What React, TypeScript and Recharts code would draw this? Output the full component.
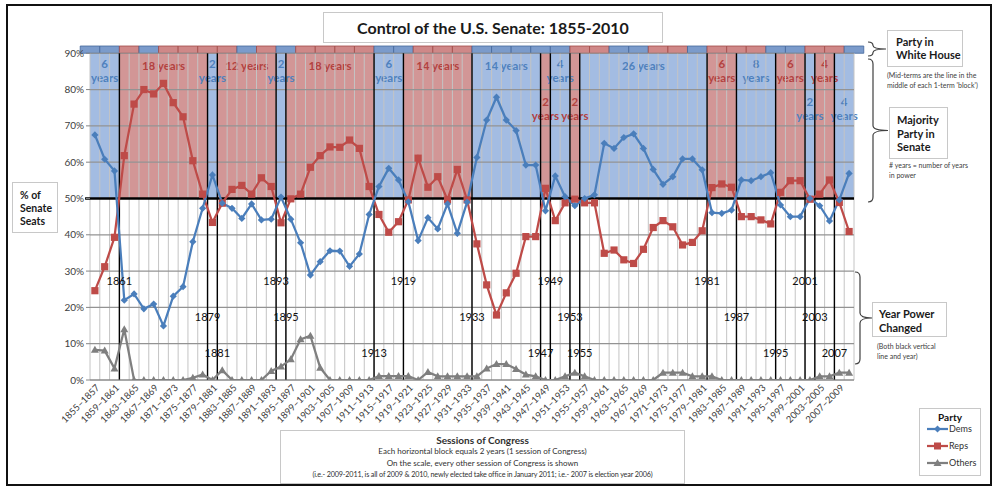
import React from "react";
import {
  ComposedChart,
  Line,
  XAxis,
  YAxis,
  ReferenceArea,
  ReferenceLine,
  ReferenceDot,
} from "recharts";

// first year of each session of Congress (each session = 2 years)
const sessions = [
  1855, 1857, 1859, 1861, 1863, 1865, 1867, 1869, 1871, 1873, 1875, 1877, 1879,
  1881, 1883, 1885, 1887, 1889, 1891, 1893, 1895, 1897, 1899, 1901, 1903, 1905,
  1907, 1909, 1911, 1913, 1915, 1917, 1919, 1921, 1923, 1925, 1927, 1929, 1931,
  1933, 1935, 1937, 1939, 1941, 1943, 1945, 1947, 1949, 1951, 1953, 1955, 1957,
  1959, 1961, 1963, 1965, 1967, 1969, 1971, 1973, 1975, 1977, 1979, 1981, 1983,
  1985, 1987, 1989, 1991, 1993, 1995, 1997, 1999, 2001, 2003, 2005, 2007, 2009,
];

// % of senate seats
const dems = [
  67.5, 60.8, 57.6, 22.0, 23.7, 19.6, 20.9, 14.9, 23.1, 25.7, 38.1, 47.3, 56.5,
  48.7, 47.3, 44.5, 48.5, 44.1, 44.3, 50.4, 44.3, 37.8, 28.9, 32.6, 35.6, 35.5,
  31.3, 34.7, 45.6, 53.3, 58.3, 55.1, 49.1, 38.4, 44.7, 41.6, 48.5, 40.4, 49.0,
  61.3, 71.6, 77.9, 71.6, 68.7, 59.2, 59.2, 46.6, 56.2, 50.5, 48.0, 50.0, 51.0,
  65.2, 63.8, 66.8, 67.8, 63.8, 58.0, 53.9, 56.0, 60.9, 60.9, 57.9, 46.1, 45.9,
  46.8, 55.1, 54.9, 56.0, 57.1, 48.2, 45.0, 45.0, 50.0, 48.0, 43.8, 49.6, 56.9,
];
const reps = [
  24.6, 31.2, 39.3, 61.8, 76.0, 80.0, 78.8, 81.7, 76.4, 72.5, 60.4, 51.2, 43.4,
  48.7, 52.5, 53.6, 51.2, 55.7, 53.3, 43.3, 49.9, 51.2, 58.6, 61.8, 64.2, 64.1,
  66.1, 63.8, 53.3, 45.6, 40.7, 43.6, 49.6, 61.1, 53.1, 56.0, 49.6, 58.0, 49.6,
  37.5, 26.2, 17.9, 24.0, 29.4, 39.5, 39.5, 52.8, 43.9, 48.8, 49.8, 48.8, 48.8,
  34.9, 35.8, 33.1, 32.1, 36.0, 42.0, 43.9, 42.2, 37.2, 37.9, 41.1, 53.0, 54.0,
  53.1, 45.0, 45.0, 44.1, 43.0, 51.7, 54.9, 54.9, 49.8, 51.2, 55.1, 48.9, 40.9,
];
const others = [
  8.3, 8.1, 3.2, 14.0, 0, 0, 0, 0, 0, 0, 0.6, 1.5, 0, 2.7, 0, 0, 0, 0, 2.5, 3.7,
  5.7, 11.2, 12.2, 3.4, 0, 0, 0, 0, 0, 1.1, 1.1, 1.1, 1.1, 0, 2.2, 1.0, 1.0, 1.0,
  1.0, 1.0, 3.2, 4.4, 4.4, 3.0, 1.5, 1.0, 0, 0, 1.0, 2.0, 1.0, 0, 0, 0, 0, 0, 0,
  0, 2.0, 2.0, 2.0, 1.0, 1.0, 1.0, 0, 0, 0, 0, 0, 0, 0, 0, 0, 0, 1.0, 1.0, 2.0,
  2.0,
];

// majority party in senate: first year of the period, party, years in power
const majorityStart = [
  1855, 1861, 1879, 1881, 1893, 1895, 1913, 1919, 1933, 1947, 1949, 1953, 1955,
  1981, 1987, 1995, 2001, 2003, 2007,
];
const majorityEnd = [
  1861, 1879, 1881, 1893, 1895, 1913, 1919, 1933, 1947, 1949, 1953, 1955, 1981,
  1987, 1995, 2001, 2003, 2007, 2011,
];
const majorityParty = [
  "D", "R", "D", "R", "D", "R", "D", "R", "D", "R", "D", "R", "D", "R", "D",
  "R", "D", "R", "D",
];
const majorityYears = [6, 18, 2, 12, 2, 18, 6, 14, 14, 2, 4, 2, 26, 6, 8, 6, 2, 4, 4];

// party in white house, by presidential term
const termStart = [
  1853, 1857, 1861, 1865, 1869, 1873, 1877, 1881, 1885, 1889, 1893, 1897, 1901,
  1905, 1909, 1913, 1917, 1921, 1925, 1929, 1933, 1937, 1941, 1945, 1949, 1953,
  1957, 1961, 1965, 1969, 1973, 1977, 1981, 1985, 1989, 1993, 1997, 2001, 2005,
  2009,
];
const termParty = [
  "D", "D", "R", "D", "R", "R", "R", "R", "D", "R", "D", "R", "R", "R", "R", "D",
  "D", "R", "R", "R", "D", "D", "D", "D", "D", "R", "R", "D", "D", "R", "R", "D",
  "R", "R", "R", "D", "D", "R", "R", "D",
];

// years the senate majority changed hands
const powerChanged = [
  1861, 1879, 1881, 1893, 1895, 1913, 1919, 1933, 1947, 1949, 1953, 1955, 1981,
  1987, 1995, 2001, 2003, 2007,
];

const yTicks = [0, 0.1, 0.2, 0.3, 0.4, 0.5, 0.6, 0.7, 0.8, 0.9];
const tickYears = sessions.filter((_, i) => i % 2 === 0);

const data = sessions.map((year, i) => ({
  year,
  dem: dems[i] / 100,
  rep: reps[i] / 100,
  oth: others[i] / 100,
}));

// label layout for the majority periods: line / stack / low
const periodLabelStyle = [
  "stack", "line", "stack", "line", "stack", "line", "stack", "line", "line",
  "low", "stack", "low", "line", "stack", "stack", "stack", "low", "stack", "low",
];
const yearLabelLevels = [0.272, 0.172, 0.074];

const BLUE = "#4A7EBB";
const RED = "#BE4B48";
const GRAY = "#7F7F7F";
const FONT = "Lato, 'Open Sans', sans-serif";

const SessionTick = ({ x, y, payload }: any) => (
  <g transform={`translate(${x + 3},${y - 2})`}>
    <text
      textAnchor="end"
      transform="rotate(-45)"
      fontSize={9.5}
      fill="#404040"
      dy="0.35em"
      fontFamily={FONT}
    >
      {`${payload.value}–${payload.value + 2}`}
    </text>
  </g>
);

const Diamond = ({ cx, cy }: any) =>
  cx == null ? null : (
    <path
      d={`M${cx},${cy - 3.6}L${cx + 3.6},${cy}L${cx},${cy + 3.6}L${cx - 3.6},${cy}Z`}
      fill={BLUE}
    />
  );
const Square = ({ cx, cy }: any) =>
  cx == null ? null : <rect x={cx - 3.6} y={cy - 3.6} width={7.2} height={7.2} fill={RED} />;
const Triangle = ({ cx, cy }: any) =>
  cx == null ? null : (
    <path d={`M${cx},${cy - 4}L${cx + 4},${cy + 3}L${cx - 4},${cy + 3}Z`} fill={GRAY} />
  );

const PeriodLabel = ({ viewBox, years, party, mode }: any) => {
  if (!viewBox) return null;
  const cx = viewBox.x + viewBox.width / 2;
  const top = viewBox.y;
  const color = party === "D" ? "#4F81BD" : "#B3423F";
  const common = {
    textAnchor: "middle" as const,
    fill: color,
    fontSize: 11.5,
    fontWeight: 700,
    fontFamily: FONT,
  };
  if (mode === "line") {
    return (
      <text x={cx} y={top + 17} {...common}>
        {`${years} years`}
      </text>
    );
  }
  const base = mode === "low" ? 53 : 15;
  return (
    <g>
      <text x={cx} y={top + base} {...common}>
        {years}
      </text>
      <text x={cx} y={top + base + 14} {...common}>
        years
      </text>
    </g>
  );
};

const Brace = ({ x0, x1, y0, y1, tip }: any) => {
  const mid = (y0 + y1) / 2;
  const xm = (x0 + x1) / 2;
  const r = Math.min(5, (y1 - y0) / 4);
  return (
    <path
      d={`M${x0},${y0} Q${xm},${y0} ${xm},${y0 + r} L${xm},${mid - r} Q${xm},${mid} ${tip},${mid} Q${xm},${mid} ${xm},${mid + r} L${xm},${y1 - r} Q${xm},${y1} ${x0},${y1}`}
      fill="none"
      stroke="#404040"
      strokeWidth={1.2}
    />
  );
};

const box = (left: number, top: number, width: number, height: number): React.CSSProperties => ({
  position: "absolute",
  left,
  top,
  width,
  height,
  border: "1.5px solid #C8C8C8",
  background: "#fff",
  boxSizing: "border-box",
});

export default function App() {
  return (
    <div
      style={{
        position: "absolute",
        left: 0,
        top: 0,
        width: 1000,
        height: 497,
        background: "#fff",
        fontFamily: FONT,
        color: "#1A1A1A",
      }}
    >
      <div
        style={{
          position: "absolute",
          left: 6,
          top: 4,
          width: 986,
          height: 482,
          border: "2px solid #111",
          boxSizing: "border-box",
        }}
      />
      <ComposedChart
        width={1000}
        height={497}
        data={data}
        margin={{ top: 46, right: 146, bottom: 57, left: 40 }}
        style={{ position: "absolute", left: 0, top: 0 }}
      >
        <XAxis
          type="number"
          dataKey="year"
          domain={[1854, 2010]}
          ticks={tickYears}
          interval={0}
          tick={<SessionTick />}
          tickLine={false}
          axisLine={{ stroke: "#868686" }}
          height={60}
          allowDataOverflow
        />
        <YAxis
          type="number"
          domain={[0, 0.92]}
          ticks={yTicks}
          interval={0}
          tickFormatter={(v) => `${Math.round(v * 100)}%`}
          width={50}
          axisLine={false}
          tickLine={{ stroke: "#868686" }}
          tickSize={4}
          tick={{ fontSize: 10, fill: "#404040", fontFamily: FONT }}
          allowDataOverflow
        />

        {majorityStart.map((s, i) => (
          <ReferenceArea
            key={`maj-${s}`}
            x1={s - 1}
            x2={majorityEnd[i] - 1}
            y1={0.5}
            y2={0.9}
            fill={majorityParty[i] === "D" ? "#A3BCE2" : "#D29696"}
            fillOpacity={1}
            stroke="none"
          />
        ))}

        {termStart.map((s, i) => (
          <ReferenceArea
            key={`term-${s}`}
            x1={s - 1}
            x2={s + 3}
            y1={0.9}
            y2={0.92}
            ifOverflow="visible"
            fill={termParty[i] === "D" ? "#7B9BCB" : "#CF8888"}
            fillOpacity={1}
            stroke={termParty[i] === "D" ? "#44679A" : "#A14A48"}
            strokeWidth={0.8}
          />
        ))}

        {[...sessions.map((s) => s - 1), 2010].map((b) => (
          <ReferenceLine
            key={`vg-${b}`}
            segment={[
              { x: b, y: 0 },
              { x: b, y: 0.9 },
            ]}
            stroke="#C4C4C4"
            strokeWidth={1}
          />
        ))}
        {yTicks.map((t) => (
          <ReferenceLine key={`hg-${t}`} y={t} stroke="#939393" strokeWidth={1.2} />
        ))}

        {powerChanged.map((yr) => (
          <ReferenceLine
            key={`pc-${yr}`}
            segment={[
              { x: yr - 1, y: 0 },
              { x: yr - 1, y: 0.9 },
            ]}
            stroke="#000"
            strokeWidth={1.4}
          />
        ))}
        {powerChanged.map((yr, i) => (
          <ReferenceDot
            key={`pcl-${yr}`}
            x={yr - 1}
            y={yearLabelLevels[i % 3]}
            r={1}
            fill="none"
            stroke="none"
            label={{
              value: String(yr),
              position: "center",
              fontSize: 11,
              fill: "#111",
              fontFamily: FONT,
            }}
          />
        ))}

        {/* period labels drawn after every shaded block so none gets covered */}
        {majorityStart.map((s, i) => (
          <ReferenceArea
            key={`majl-${s}`}
            x1={s - 1}
            x2={majorityEnd[i] - 1}
            y1={0.5}
            y2={0.9}
            fill="none"
            stroke="none"
            label={
              <PeriodLabel
                years={majorityYears[i]}
                party={majorityParty[i]}
                mode={periodLabelStyle[i]}
              />
            }
          />
        ))}

        <ReferenceLine
          segment={[
            { x: 1853, y: 0.5 },
            { x: 2010, y: 0.5 },
          ]}
          ifOverflow="visible"
          stroke="#000"
          strokeWidth={2.5}
        />

        <Line
          dataKey="oth"
          stroke={GRAY}
          strokeWidth={2.25}
          dot={<Triangle />}
          activeDot={false}
          isAnimationActive={false}
        />
        <Line
          dataKey="rep"
          stroke={RED}
          strokeWidth={2.25}
          dot={<Square />}
          activeDot={false}
          isAnimationActive={false}
        />
        <Line
          dataKey="dem"
          stroke={BLUE}
          strokeWidth={2.25}
          dot={<Diamond />}
          activeDot={false}
          isAnimationActive={false}
        />
      </ComposedChart>

      {/* title */}
      <div style={{ ...box(323, 12, 340, 31), display: "flex", alignItems: "center", justifyContent: "center" }}>
        <span style={{ fontSize: 16, fontWeight: 700 }}>Control of the U.S. Senate: 1855-2010</span>
      </div>

      {/* y axis title */}
      <div style={{ ...box(12, 182, 46, 51), padding: "6px 0 0 7px", fontSize: 10.5, fontWeight: 700, lineHeight: "13px" }}>
        % of
        <br />
        Senate
        <br />
        Seats
      </div>

      {/* right annotations */}
      <svg width={1000} height={497} style={{ position: "absolute", left: 0, top: 0, pointerEvents: "none" }}>
        <Brace x0={868} x1={878} y0={42} y1={56} tip={886} />
        <Brace x0={868} x1={878} y0={59} y1={202} tip={888} />
        <Brace x0={855} x1={865} y0={272} y1={364} tip={872} />
      </svg>
      <div style={{ ...box(887, 30, 76, 37), padding: "4px 0 0 8px", fontSize: 11, fontWeight: 700, lineHeight: "13px" }}>
        Party in
        <br />
        White House
      </div>
      <div style={{ position: "absolute", left: 887, top: 70, fontSize: 7, lineHeight: "10px", color: "#404040", whiteSpace: "nowrap" }}>
        (Mid-terms are the line in the
        <br />
        middle of each 1-term 'block')
      </div>
      <div style={{ ...box(889, 107, 59, 52), padding: "5px 0 0 7px", fontSize: 11, fontWeight: 700, lineHeight: "13.5px" }}>
        Majority
        <br />
        Party in
        <br />
        Senate
      </div>
      <div style={{ position: "absolute", left: 889, top: 161, fontSize: 7, lineHeight: "9.5px", color: "#404040", whiteSpace: "nowrap" }}>
        # years = number of years
        <br />
        in power
      </div>
      <div style={{ ...box(872, 302, 75, 35), padding: "4px 0 0 6px", fontSize: 11, fontWeight: 700, lineHeight: "13.5px" }}>
        Year Power
        <br />
        Changed
      </div>
      <div style={{ position: "absolute", left: 877, top: 341, fontSize: 7, lineHeight: "10px", color: "#404040", whiteSpace: "nowrap" }}>
        (Both black vertical
        <br />
        line and year)
      </div>

      {/* sessions note */}
      <div style={{ ...box(280, 430, 405, 54), textAlign: "center", paddingTop: 3, color: "#303030" }}>
        <div style={{ fontSize: 10, fontWeight: 700, lineHeight: "12px" }}>Sessions of Congress</div>
        <div style={{ fontSize: 8, lineHeight: "11.5px" }}>Each horizontal block equals 2 years (1 session of Congress)</div>
        <div style={{ fontSize: 8, lineHeight: "11.5px" }}>On the scale, every other session of Congress is shown</div>
        <div style={{ fontSize: 7.2, lineHeight: "11.5px", whiteSpace: "nowrap", letterSpacing: -0.15 }}>
          (i.e.- 2009-2011, is all of 2009 &amp; 2010, newly elected take office in January 2011; i.e.- 2007 is election year 2006)
        </div>
      </div>

      {/* legend */}
      <div style={{ ...box(919, 408, 62, 68), fontSize: 9, color: "#303030" }}>
        <div style={{ textAlign: "center", fontWeight: 700, fontSize: 10, marginTop: 2, color: "#111" }}>Party</div>
        {[
          { name: "Dems", color: BLUE, shape: "diamond" },
          { name: "Reps", color: RED, shape: "square" },
          { name: "Others", color: GRAY, shape: "triangle" },
        ].map((it, i) => (
          <div key={it.name} style={{ position: "absolute", left: 7, top: 14 + i * 17, display: "flex", alignItems: "center" }}>
            <svg width={21} height={10}>
              <line x1={0} y1={5} x2={21} y2={5} stroke={it.color} strokeWidth={2.25} />
              {it.shape === "diamond" && <path d="M10.5,1.5L14,5L10.5,8.5L7,5Z" fill={it.color} />}
              {it.shape === "square" && <rect x={7} y={1.5} width={7} height={7} fill={it.color} />}
              {it.shape === "triangle" && <path d="M10.5,1L14.5,8L6.5,8Z" fill={it.color} />}
            </svg>
            <span style={{ marginLeft: 1 }}>{it.name}</span>
          </div>
        ))}
      </div>
    </div>
  );
}
